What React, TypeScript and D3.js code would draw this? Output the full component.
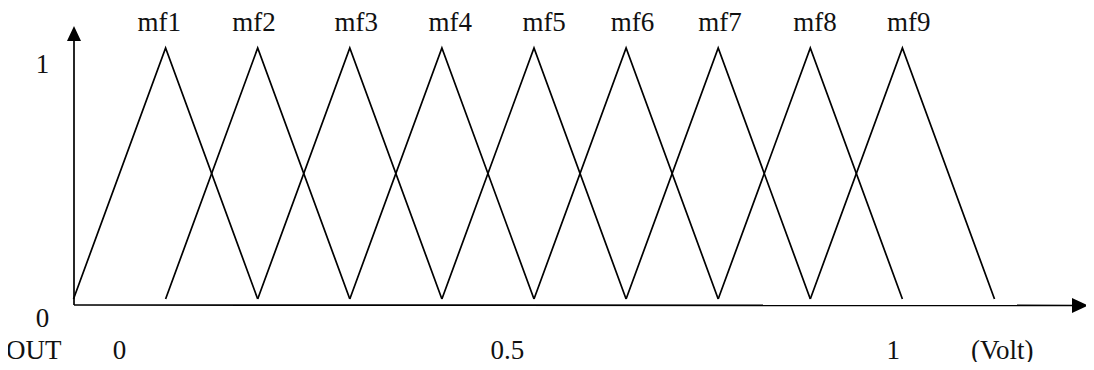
import React from "react";
import * as d3 from "d3";

// membership functions: [left base, peak, right base] in step units
const mfNames = ["mf1", "mf2", "mf3", "mf4", "mf5", "mf6", "mf7", "mf8", "mf9"];
const mfLeft = [0, 1, 2, 3, 4, 5, 6, 7, 8];
const mfPeak = [1, 2, 3, 4, 5, 6, 7, 8, 9];
const mfRight = [2, 3, 4, 5, 6, 7, 8, 9, 10];
const mfLabelX = [0.93, 1.96, 3.07, 4.09, 5.11, 6.07, 7.02, 8.05, 9.07];

const xTickLabels = ["0", "0.5", "1"];
const xTickPos = [0.5, 4.71, 8.9];
const yTickLabels = ["0", "1"];
const yTickVals = [0, 1];

const W = 1094;
const H = 370;
const FONT = "Liberation Serif";

export default function App() {
  const x = d3.scaleLinear().domain([0, 11]).range([73.5, 73.5 + 11 * 92.1]);
  const y = d3.scaleLinear().domain([0, 1]).range([299, 48]);
  const line = d3
    .line<[number, number]>()
    .x((d) => x(d[0]))
    .y((d) => y(d[1]));

  const axisY = 305;
  const axisX = 74;
  const stroke = "#000";
  const txt = { fontFamily: FONT, fontSize: 27, fill: "#111" } as React.CSSProperties;

  return (
    <div style={{ margin: -8 }}>
      <svg width={W} height={H} style={{ display: "block", background: "#fff" }}>
        {/* axes */}
        <line x1={axisX} y1={axisY} x2={1074} y2={axisY + 0.5} stroke={stroke} strokeWidth={1.7} />
        <path d={`M1088,${axisY + 0.5} L1072,${axisY - 7} L1072,${axisY + 8} Z`} fill={stroke} />
        <line x1={axisX} y1={axisY} x2={axisX} y2={38} stroke={stroke} strokeWidth={1.7} />
        <path d={`M${axisX},26 L${axisX - 7},41 L${axisX + 7},41 Z`} fill={stroke} />

        {/* triangles */}
        {mfNames.map((n, i) => (
          <path
            key={n}
            d={line([
              [mfLeft[i], 0],
              [mfPeak[i], 1],
              [mfRight[i], 0],
            ]) as string}
            fill="none"
            stroke={stroke}
            strokeWidth={1.7}
            strokeLinejoin="miter"
          />
        ))}

        {/* mf labels */}
        {mfNames.map((n, i) => (
          <text key={"l" + n} x={x(mfLabelX[i])} y={31} textAnchor="middle" style={txt}>
            {n}
          </text>
        ))}

        {/* y tick labels */}
        {yTickLabels.map((t, i) => (
          <text
            key={"y" + t}
            x={42.5}
            y={yTickVals[i] === 1 ? 73 : 327}
            textAnchor="middle"
            style={txt}
          >
            {t}
          </text>
        ))}

        {/* x tick labels */}
        <text x={6} y={359} style={txt}>
          OUT
        </text>
        {xTickLabels.map((t, i) => (
          <text key={"x" + t} x={x(xTickPos[i])} y={359} textAnchor="middle" style={txt}>
            {t}
          </text>
        ))}
        <text x={971} y={359} style={txt}>
          (Volt)
        </text>
      </svg>
    </div>
  );
}
